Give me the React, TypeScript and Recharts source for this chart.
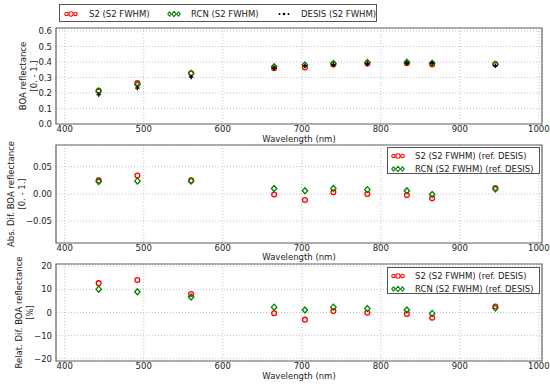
import React from 'react';
import { ScatterChart, Scatter, XAxis, YAxis, CartesianGrid, ReferenceArea } from 'recharts';

// ---- Data ----
const wavelengths = [443, 492, 560, 665, 704, 740, 783, 833, 865, 945];

const boaS2 = [0.215, 0.265, 0.328, 0.36, 0.365, 0.385, 0.39, 0.392, 0.385, 0.387];
const boaRCN = [0.213, 0.255, 0.327, 0.37, 0.382, 0.391, 0.397, 0.399, 0.392, 0.385];
const boaDESIS = [0.19, 0.232, 0.304, 0.361, 0.376, 0.382, 0.39, 0.394, 0.393, 0.377];

const absS2 = [0.025, 0.034, 0.025, -0.001, -0.011, 0.003, 0.0, -0.002, -0.008, 0.011];
const absRCN = [0.023, 0.024, 0.024, 0.01, 0.006, 0.01, 0.008, 0.006, -0.001, 0.009];

const relS2 = [12.7, 14.1, 8.0, -0.3, -3.1, 0.6, -0.1, -0.6, -2.3, 2.6];
const relRCN = [10.1, 9.0, 6.7, 2.3, 1.1, 2.3, 1.7, 1.1, -0.4, 1.9];

const xTicks = [400, 500, 600, 700, 800, 900, 1000];
const xDomain = [389, 1004];
const yTicks1 = [0, 0.1, 0.2, 0.3, 0.4, 0.5, 0.6];
const yTicks2 = [-0.05, 0, 0.05];
const yTicks3 = [-20, -10, 0, 10, 20];

const legendTop = ['S2 (S2 FWHM)', 'RCN (S2 FWHM)', 'DESIS (S2 FWHM)'];
const legendDiff = ['S2 (S2 FWHM) (ref. DESIS)', 'RCN (S2 FWHM) (ref. DESIS)'];

const FONT = "'DejaVu Sans', 'Liberation Sans', sans-serif";
const RED = '#ff0000';
const GREEN = '#008000';
const BLACK = '#000000';
const TXT = '#222';

const toPts = (ys: number[]) => wavelengths.map((w, i) => ({ x: w, y: ys[i] }));
const minus = (s: string) => s.replace('-', '\u2212');

// ---- Marker shapes ----
const circleShape = (p: any) => (
  <circle cx={p.cx} cy={p.cy} r={2.4} fill="none" stroke={RED} strokeWidth={1.3} />
);
const diamondShape = (p: any) => (
  <path
    d={`M${p.cx},${p.cy - 3}L${p.cx + 2.7},${p.cy}L${p.cx},${p.cy + 3}L${p.cx - 2.7},${p.cy}Z`}
    fill="none"
    stroke={GREEN}
    strokeWidth={1.3}
  />
);
const plusShape = (p: any) => (
  <g stroke={BLACK} strokeWidth={1.4}>
    <line x1={p.cx - 2.2} y1={p.cy} x2={p.cx + 2.2} y2={p.cy} />
    <line x1={p.cx} y1={p.cy - 2.2} x2={p.cx} y2={p.cy + 2.2} />
  </g>
);

// ---- Legend marker triplets ----
const LegendMarks = ({ kind }: { kind: string }) => {
  const xs = [2.5, 7, 11.5];
  const rs = [1.7, 2.2, 1.7];
  return (
    <svg width={14} height={8} style={{ display: 'block' }}>
      {xs.map((x, i) => {
        const r = rs[i];
        if (kind === 'circle')
          return <circle key={i} cx={x} cy={4} r={r} fill="none" stroke={RED} strokeWidth={1.1} />;
        if (kind === 'diamond')
          return (
            <path
              key={i}
              d={`M${x},${4 - r - 0.5}L${x + r},${4}L${x},${4 + r + 0.5}L${x - r},${4}Z`}
              fill="none"
              stroke={GREEN}
              strokeWidth={1.1}
            />
          );
        return <circle key={i} cx={x} cy={4} r={r * 0.6} fill={BLACK} />;
      })}
    </svg>
  );
};

type PanelProps = {
  top: number;
  height: number;
  marginTop: number;
  marginBottom: number;
  axisHeight: number;
  labelOffset: number;
  yDomain: number[];
  yTicks: number[];
  yFmt: (v: number) => string;
  series: { data: { x: number; y: number }[]; shape: any; name: string }[];
  ylabel: string[];
  ylabelX: number[];
};

const Panel = (p: PanelProps) => {
  const yLabelContent = (props: any) => {
    const vb = props.viewBox || {};
    const cy = (vb.y || 0) + (vb.height || 0) / 2;
    return (
      <g>
        {p.ylabel.map((line, i) => (
          <text
            key={i}
            x={p.ylabelX[i]}
            y={cy}
            transform={`rotate(-90, ${p.ylabelX[i]}, ${cy})`}
            textAnchor="middle"
            dominantBaseline="central"
            fontFamily={FONT}
            fontSize={8.5}
            fill={TXT}
          >
            {line}
          </text>
        ))}
      </g>
    );
  };
  return (
    <div style={{ position: 'absolute', left: 0, top: p.top, width: 550, height: p.height }}>
      <ScatterChart
        width={550}
        height={p.height}
        margin={{ top: p.marginTop, right: 8, bottom: p.marginBottom, left: 0 }}
      >
        <CartesianGrid stroke="#b5b5b5" strokeDasharray="1 2" strokeWidth={0.8} />
        <XAxis
          dataKey="x"
          type="number"
          domain={xDomain}
          ticks={xTicks}
          allowDataOverflow
          height={p.axisHeight}
          axisLine={false}
          tickLine={false}
          tickSize={0}
          tickMargin={2}
          interval={0}
          tick={{ fontFamily: FONT, fontSize: 8.5, fill: TXT }}
          label={{
            value: 'Wavelength (nm)',
            position: 'insideBottom',
            offset: p.labelOffset,
            fontFamily: FONT,
            fontSize: 8.5,
            fill: TXT,
          }}
        />
        <YAxis
          dataKey="y"
          type="number"
          domain={p.yDomain}
          ticks={p.yTicks}
          allowDataOverflow
          width={56}
          axisLine={false}
          tickLine={false}
          tickSize={0}
          tickMargin={4}
          interval={0}
          tickFormatter={p.yFmt}
          tick={{ fontFamily: FONT, fontSize: 8.5, fill: TXT }}
          label={{ content: yLabelContent }}
        />
        <ReferenceArea
          x1={xDomain[0]}
          x2={xDomain[1]}
          y1={p.yDomain[0]}
          y2={p.yDomain[1]}
          fill="none"
          fillOpacity={0}
          stroke="#666"
          strokeWidth={1.2}
          ifOverflow="visible"
        />
        {p.series.map((s, i) => (
          <Scatter key={i} name={s.name} data={s.data} shape={s.shape} isAnimationActive={false} />
        ))}
      </ScatterChart>
    </div>
  );
};

const legendText: React.CSSProperties = {
  fontFamily: FONT,
  fontSize: 8.5,
  color: TXT,
  whiteSpace: 'nowrap',
  lineHeight: '10px',
};

const TopLegend = () => {
  const kinds = ['circle', 'diamond', 'star'];
  const markX = [4, 107, 217];
  const textX = [29, 131, 241];
  return (
    <div
      style={{
        position: 'absolute',
        left: 59,
        top: 4,
        width: 318,
        height: 18,
        border: '1px solid #555',
        background: '#fff',
        boxSizing: 'border-box',
      }}
    >
      {legendTop.map((t, i) => (
        <React.Fragment key={i}>
          <div style={{ position: 'absolute', left: markX[i], top: 4.5 }}>
            <LegendMarks kind={kinds[i]} />
          </div>
          <div style={{ ...legendText, position: 'absolute', left: textX[i], top: 3.5 }}>{t}</div>
        </React.Fragment>
      ))}
    </div>
  );
};

const DiffLegend = ({ top }: { top: number }) => {
  const kinds = ['circle', 'diamond'];
  return (
    <div
      style={{
        position: 'absolute',
        left: 387,
        top,
        width: 153,
        height: 27,
        border: '1px solid #555',
        background: '#fff',
        boxSizing: 'border-box',
      }}
    >
      {legendDiff.map((t, i) => (
        <React.Fragment key={i}>
          <div style={{ position: 'absolute', left: 3, top: 4 + i * 13 }}>
            <LegendMarks kind={kinds[i]} />
          </div>
          <div style={{ ...legendText, position: 'absolute', left: 27, top: 3 + i * 13 }}>{t}</div>
        </React.Fragment>
      ))}
    </div>
  );
};

export default function App() {
  return (
    <div
      style={{
        position: 'absolute',
        left: 0,
        top: 0,
        width: 550,
        height: 386,
        background: '#fff',
        overflow: 'hidden',
      }}
    >
      <Panel
        top={0}
        height={150}
        marginTop={28}
        marginBottom={7}
        axisHeight={19}
        labelOffset={1}
        yDomain={[0, 0.62]}
        yTicks={yTicks1}
        yFmt={(v) => v.toFixed(1)}
        series={[
          { name: 'S2 (S2 FWHM)', data: toPts(boaS2), shape: circleShape },
          { name: 'RCN (S2 FWHM)', data: toPts(boaRCN), shape: diamondShape },
          { name: 'DESIS (S2 FWHM)', data: toPts(boaDESIS), shape: plusShape },
        ]}
        ylabel={['BOA reflectance', '[0. - 1.]']}
        ylabelX={[23, 34]}
      />
      <Panel
        top={130}
        height={140}
        marginTop={15}
        marginBottom={10}
        axisHeight={17}
        labelOffset={0}
        yDomain={[-0.09, 0.09]}
        yTicks={yTicks2}
        yFmt={(v) => minus(v.toFixed(2))}
        series={[
          { name: legendDiff[0], data: toPts(absS2), shape: circleShape },
          { name: legendDiff[1], data: toPts(absRCN), shape: diamondShape },
        ]}
        ylabel={['Abs. Dif. BOA reflectance', '[0. - 1.]']}
        ylabelX={[11, 22]}
      />
      <Panel
        top={250}
        height={136}
        marginTop={14}
        marginBottom={6}
        axisHeight={19}
        labelOffset={1}
        yDomain={[-21, 21]}
        yTicks={yTicks3}
        yFmt={(v) => minus(String(v))}
        series={[
          { name: legendDiff[0], data: toPts(relS2), shape: circleShape },
          { name: legendDiff[1], data: toPts(relRCN), shape: diamondShape },
        ]}
        ylabel={['Relat. Dif. BOA reflectance', '[%]']}
        ylabelX={[19, 30]}
      />
      <TopLegend />
      <DiffLegend top={147} />
      <DiffLegend top={267} />
    </div>
  );
}
